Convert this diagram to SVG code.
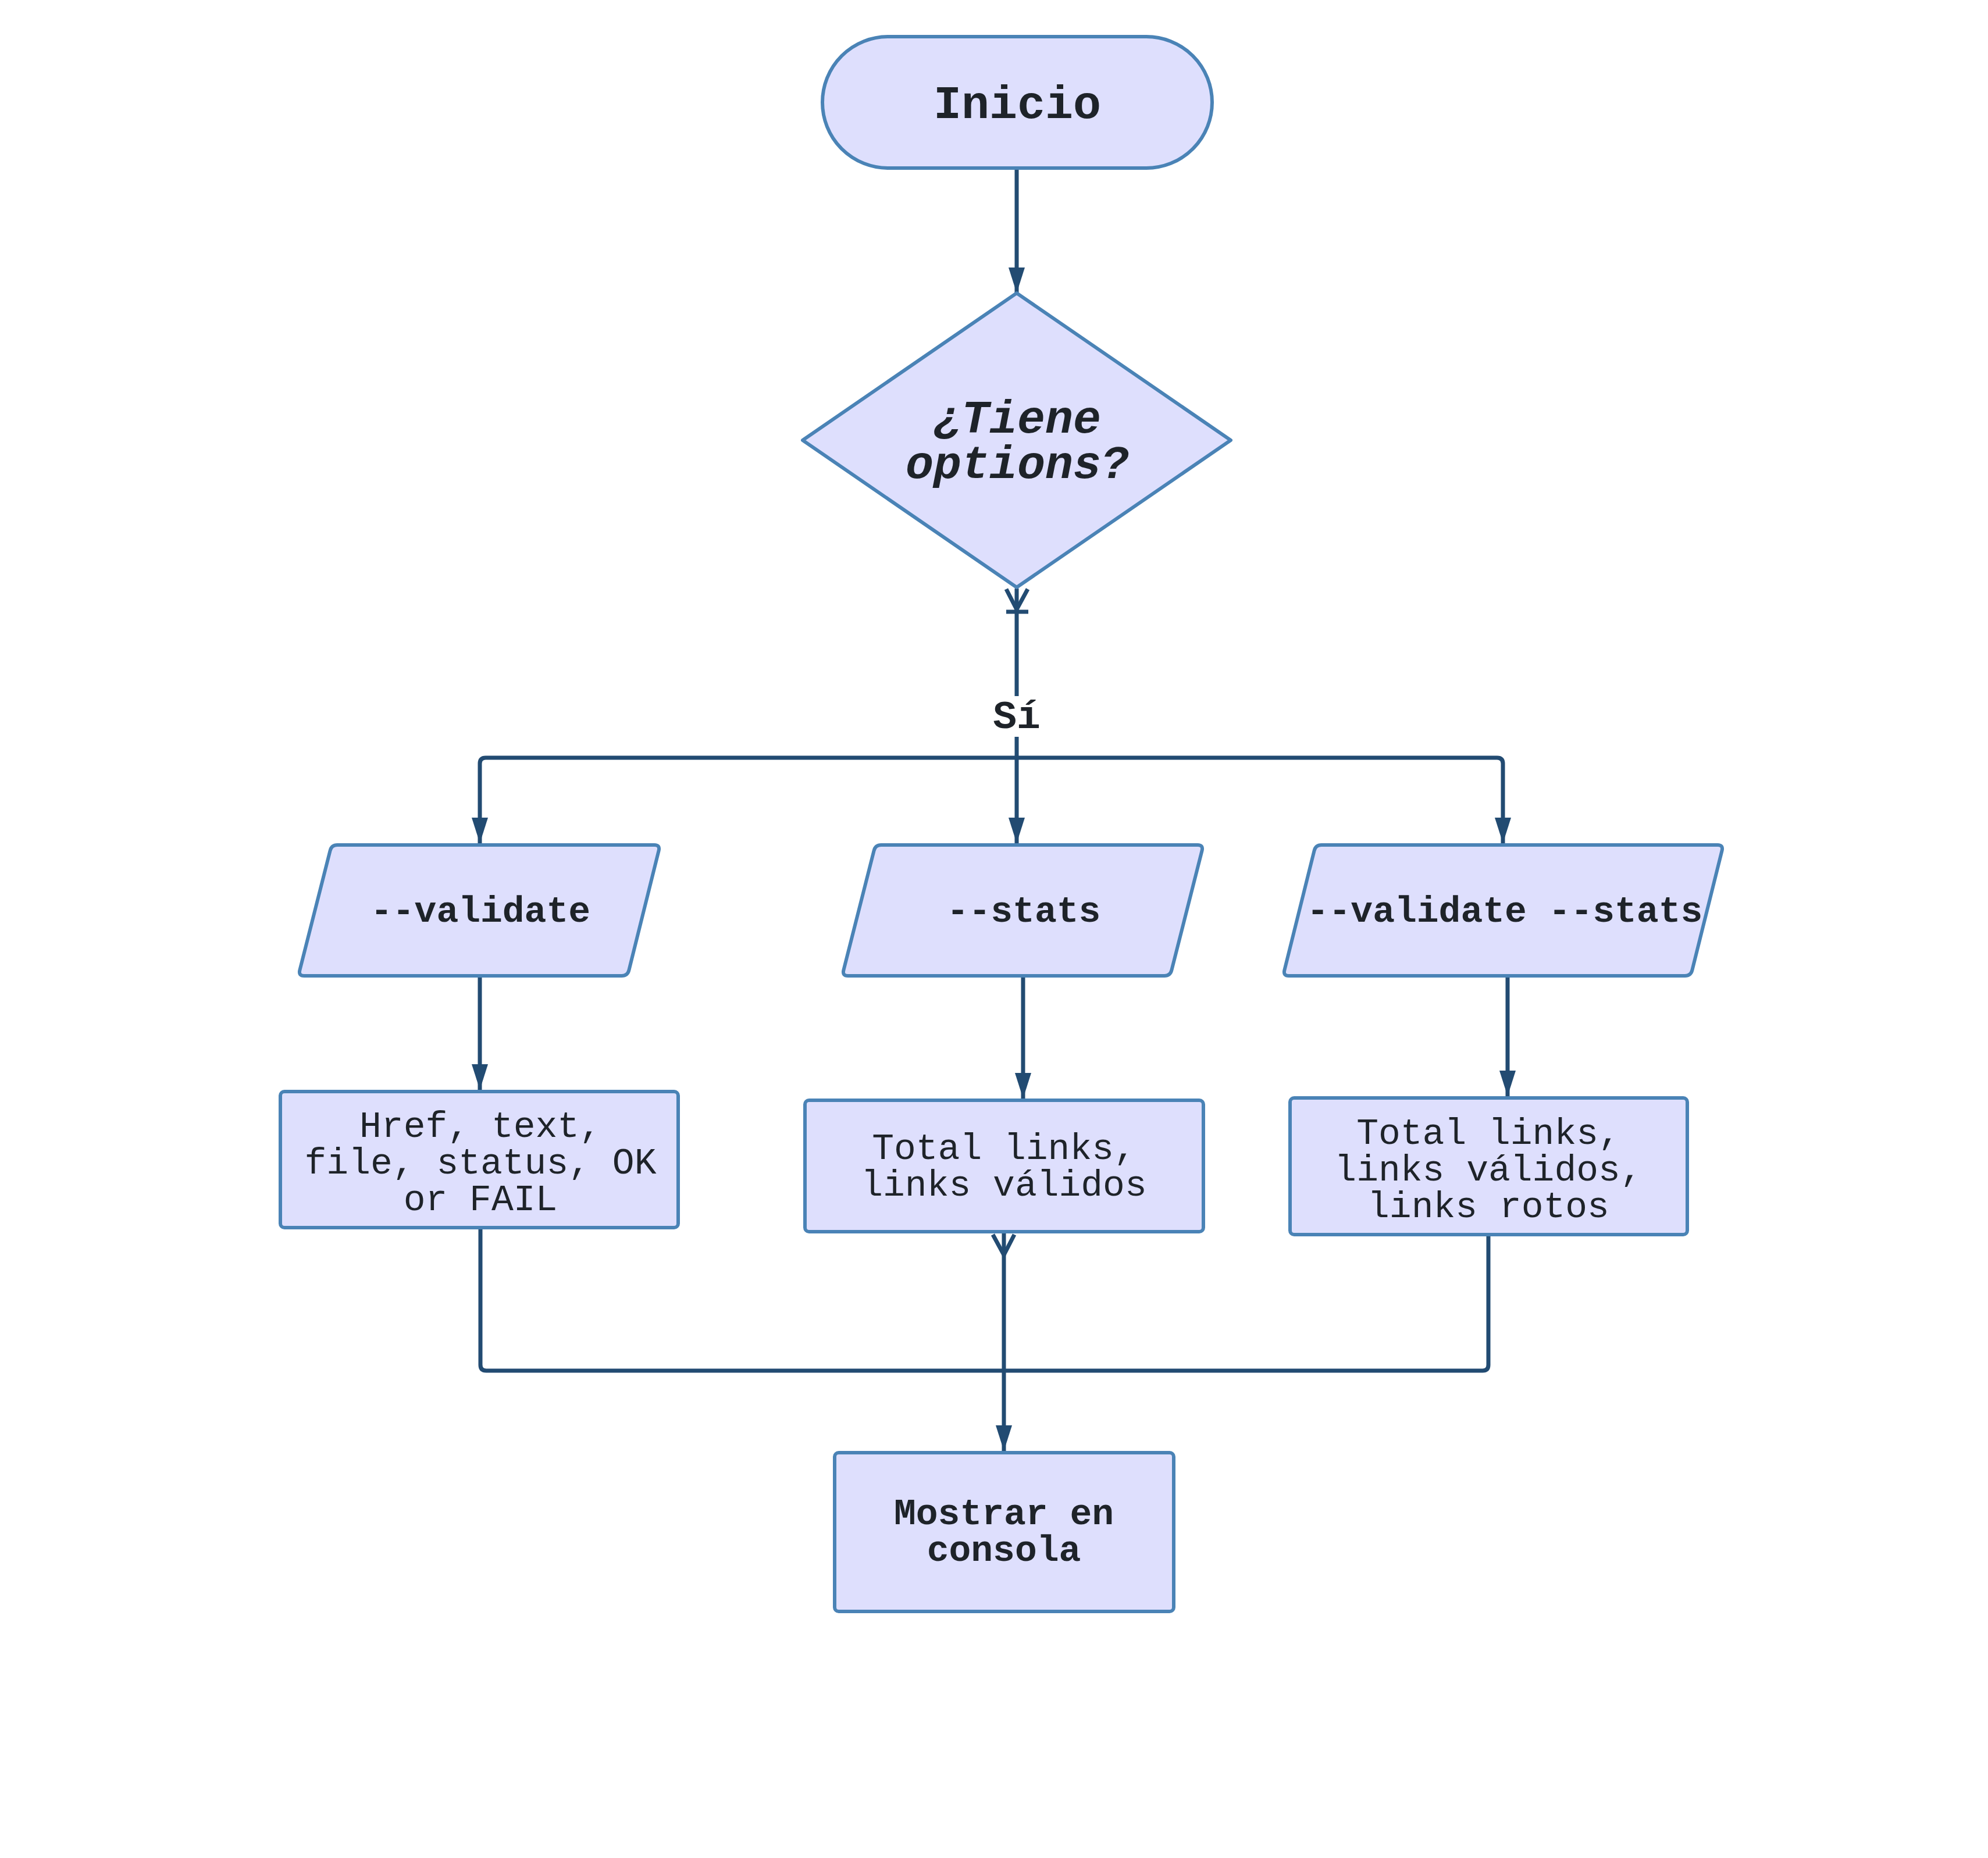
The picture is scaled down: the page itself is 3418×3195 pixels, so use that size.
<svg xmlns="http://www.w3.org/2000/svg" width="3418" height="3195" viewBox="0 0 3418 3195">
<defs>
<style>
.node{fill:#dedffd;stroke:#4a83b6;stroke-width:6;stroke-linejoin:round}
.edge{fill:none;stroke:#224b72;stroke-width:7}
.t{font-family:"Liberation Mono","DejaVu Sans Mono",monospace;fill:#1e2329;text-anchor:middle}
.b{font-weight:bold}
</style>
<marker id="arr" viewBox="0 0 44 28" refX="44" refY="14" markerWidth="44" markerHeight="28" markerUnits="userSpaceOnUse" orient="auto">
<path d="M0,0 L44,14 L0,28 Z" fill="#224b72"/>
</marker>
</defs>
<rect width="3418" height="3195" fill="#ffffff"/>
<g id="connectors">
<path class="edge" d="M1748,290 L1748,504" marker-end="url(#arr)"/>
<path class="edge" d="M1748,1012 L1748,1197"/>
<path class="edge" d="M1730,1013 L1748,1048 L1767,1013 M1730,1052 L1768,1052"/>
<path class="edge" d="M1748,1267 L1748,1450" marker-end="url(#arr)"/>
<path class="edge" d="M1748,1303 L835,1303 Q825,1303 825,1313 L825,1450" marker-end="url(#arr)"/>
<path class="edge" d="M1748,1303 L2574,1303 Q2584,1303 2584,1313 L2584,1450" marker-end="url(#arr)"/>
<path class="edge" d="M825,1678 L825,1874" marker-end="url(#arr)"/>
<path class="edge" d="M1759,1678 L1759,1889" marker-end="url(#arr)"/>
<path class="edge" d="M2592,1678 L2592,1885" marker-end="url(#arr)"/>
<path class="edge" d="M826,2111 L826,2347 Q826,2357 836,2357 L2549,2357 Q2559,2357 2559,2347 L2559,2123"/>
<path class="edge" d="M1726,2120 L1726,2495" marker-end="url(#arr)"/>
<path class="edge" d="M1707,2123 L1726,2158 L1744,2123"/>
<text class="t b" x="1748" y="1252" font-size="68">Sí</text>
</g>
<g id="inicio">
<rect class="node" x="1414" y="63" width="670" height="226" rx="113" ry="113"/>
<text class="t b" x="1749" y="203" font-size="80">Inicio</text>
</g>
<g id="decision">
<polygon class="node" points="1748,504 2116,757 1748,1010 1380,757"/>
<text class="t b" font-style="italic" x="1749" y="744" font-size="80">¿Tiene</text>
<text class="t b" font-style="italic" x="1749" y="822" font-size="80">options?</text>
</g>
<g id="validate">
<path class="node" d="M580,1453 L1125,1453 Q1135,1453 1132.6,1462.7 L1081.4,1668.3 Q1079,1678 1069,1678 L523,1678 Q513,1678 515.4,1668.3 L567.6,1462.7 Q570,1453 580,1453 Z"/>
<text class="t b" x="826" y="1585" font-size="63">--validate</text>
</g>
<g id="stats">
<path class="node" d="M1515,1453 L2059,1453 Q2069,1453 2066.6,1462.7 L2014.4,1668.3 Q2012,1678 2002,1678 L1458,1678 Q1448,1678 1450.4,1668.3 L1502.6,1462.7 Q1505,1453 1515,1453 Z"/>
<text class="t b" x="1760" y="1585" font-size="63">--stats</text>
</g>
<g id="validatestats">
<path class="node" d="M2272,1453 L2953,1453 Q2963,1453 2960.6,1462.7 L2909.4,1668.3 Q2907,1678 2897,1678 L2216,1678 Q2206,1678 2208.4,1668.3 L2259.6,1462.7 Q2262,1453 2272,1453 Z"/>
<text class="t b" x="2587" y="1585" font-size="63">--validate --stats</text>
</g>
<g id="out-validate">
<rect class="node" x="482" y="1877" width="684" height="234" rx="7"/>
<text class="t" x="826" y="1955" font-size="63">Href, text,</text>
<text class="t" x="826" y="2018" font-size="63">file, status, OK</text>
<text class="t" x="826" y="2081" font-size="63">or FAIL</text>
</g>
<g id="out-stats">
<rect class="node" x="1384" y="1892" width="685" height="226" rx="7"/>
<text class="t" x="1726" y="1993" font-size="63">Total links,</text>
<text class="t" x="1726" y="2056" font-size="63">links válidos</text>
</g>
<g id="out-validatestats">
<rect class="node" x="2218" y="1888" width="683" height="235" rx="7"/>
<text class="t" x="2559" y="1967" font-size="63">Total links,</text>
<text class="t" x="2559" y="2030" font-size="63">links válidos,</text>
<text class="t" x="2559" y="2093" font-size="63">links rotos</text>
</g>
<g id="mostrar">
<rect class="node" x="1435" y="2498" width="583" height="273" rx="7"/>
<text class="t b" x="1726" y="2621" font-size="63">Mostrar en</text>
<text class="t b" x="1726" y="2684" font-size="63">consola</text>
</g>
</svg>
